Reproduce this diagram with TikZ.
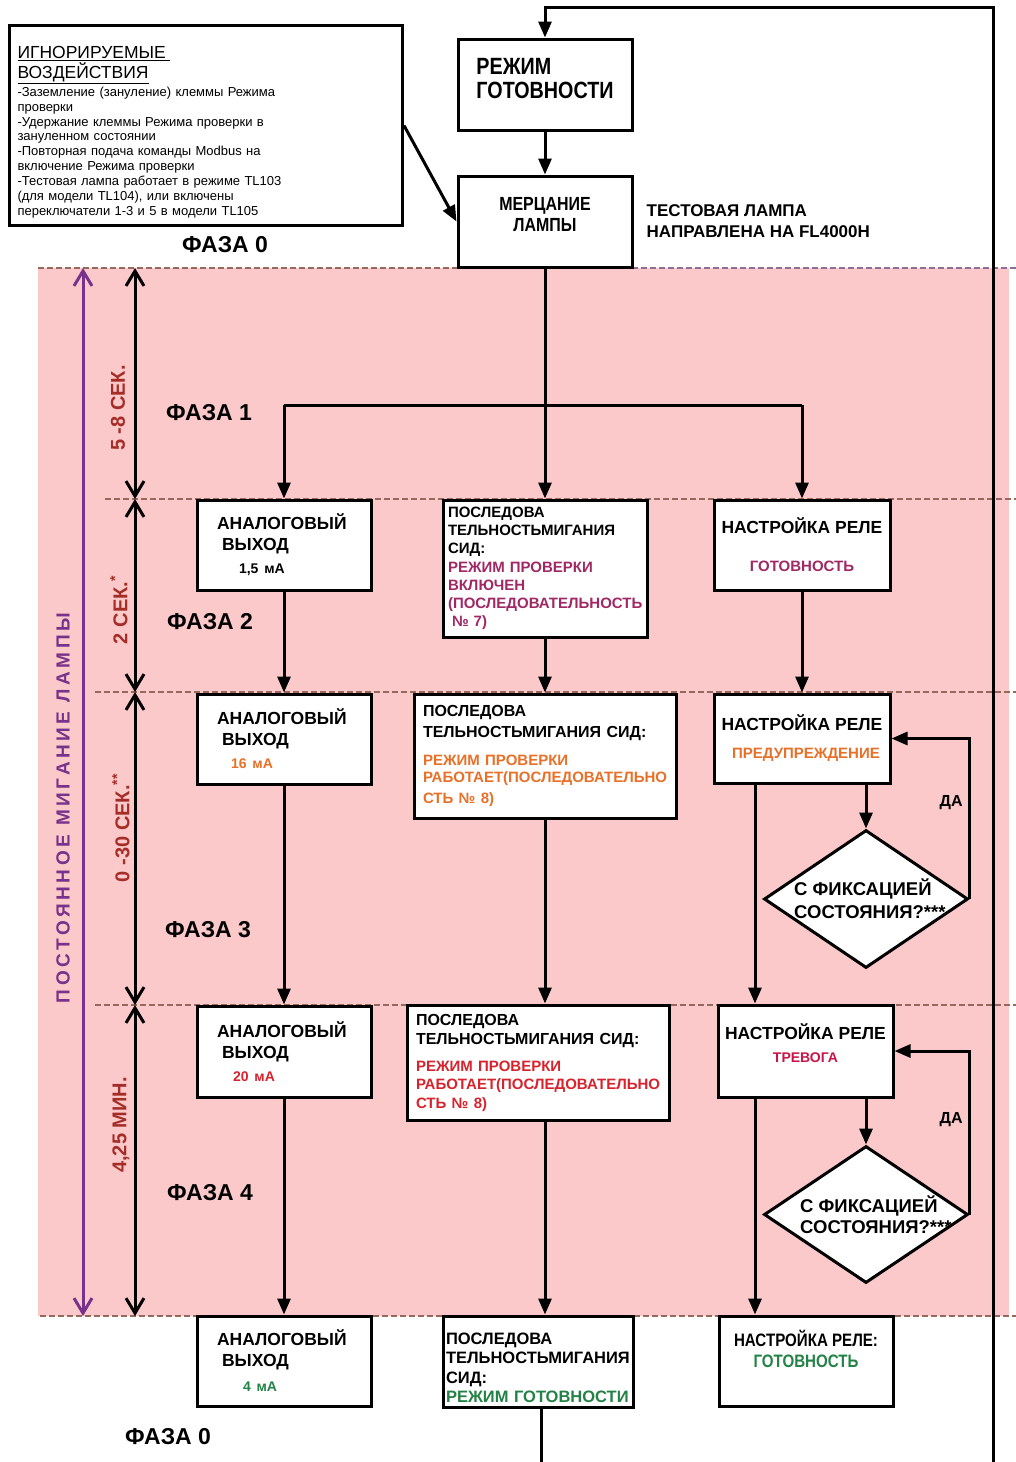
\documentclass[tikz,border=0pt]{standalone}
\usepackage{fontspec}
\setmainfont{Liberation Sans}
\newfontfamily\condfont[FakeStretch=0.84]{Liberation Sans}
\usetikzlibrary{arrows.meta,shapes.geometric,positioning}

\definecolor{phasepink}{RGB}{251,201,201}
\definecolor{bounddash}{RGB}{150,105,95}
\definecolor{bounddashpurple}{RGB}{140,110,150}
\definecolor{timered}{RGB}{165,45,40}
\definecolor{blinkpurple}{RGB}{120,50,140}
\definecolor{checkmagenta}{RGB}{160,40,100}
\definecolor{warnorange}{RGB}{232,112,40}
\definecolor{alarmred}{RGB}{215,35,45}
\definecolor{alarmcrimson}{RGB}{200,20,70}
\definecolor{readygreen}{RGB}{35,130,70}

\tikzset{
  box/.style={draw, line width=3pt, fill=white, inner sep=0pt, font=\bfseries\fontsize{17.5}{21}\selectfont},
  decision/.style={diamond, draw, line width=3pt, fill=white, inner sep=0pt, minimum width=204pt, minimum height=138pt},
  flow/.style={line width=3pt, -{Triangle[length=16pt,width=13pt]}},
  wire/.style={line width=3pt},
  timespan/.style={line width=3pt, {Straight Barb[length=15pt,width=18pt]}-{Straight Barb[length=15pt,width=18pt]}},
  bound/.style={draw=bounddash, line width=1.2pt, dash pattern=on 6pt off 3pt},
  phase/.style={font=\bfseries\fontsize{23}{27}\selectfont},
  timing/.style={rotate=90, text=timered, font=\bfseries\fontsize{20}{23}\selectfont},
}

\begin{document}
\begin{tikzpicture}[x=1pt,y=-1pt]
\useasboundingbox (0,0) rectangle (1016,1462);

% phase band and boundaries
\fill[phasepink] (38,268) rectangle (1009,1316);
\draw[bound] (38,268) -- (458,268);
\draw[bound, draw=bounddashpurple] (632,268) -- (1016,268);
\draw[bound] (105,499) -- (1016,499);
\draw[bound] (95,692) -- (1016,692);
\draw[bound] (95,1005) -- (1016,1005);
\draw[bound] (40,1316) -- (1016,1316);

% time scale
\coordinate (t0) at (135,268);
\coordinate (t1) at (135,499);
\coordinate (t2) at (135,692);
\coordinate (t3) at (135,1005);
\coordinate (t4) at (135,1316);
\draw[timespan] (t0) -- (t1);
\draw[timespan] (t1) -- (t2);
\draw[timespan] (t2) -- (t3);
\draw[timespan] (t3) -- (t4);
\coordinate (b0) at (83,268);
\coordinate (b1) at (83,1316);
\draw[timespan, draw=blinkpurple] (b0) -- (b1);

\node[timing] (dur1) at (118,408) {5 -8 СЕК.};
\node[timing] (dur2) at (119,610) {2 СЕК.\textsuperscript{*}};
\node[timing] (dur3) at (121,828) {0 -30 СЕК.\textsuperscript{**}};
\node[timing] (dur4) at (121,1125) {4,25 МИН.};
\node[rotate=90, text=blinkpurple, font=\bfseries\fontsize{19}{21}\selectfont\addfontfeature{LetterSpace=19}] (blink) at (63,808) {ПОСТОЯННОЕ МИГАНИЕ ЛАМПЫ};

\node[phase] (ph0) at (225,245) {ФАЗА 0};
\node[phase] (ph1) at (209,413) {ФАЗА 1};
\node[phase] (ph2) at (210,622) {ФАЗА 2};
\node[phase] (ph3) at (208,930) {ФАЗА 3};
\node[phase] (ph4) at (210,1193) {ФАЗА 4};
\node[phase] (ph5) at (168,1437) {ФАЗА 0};

% phase 0
\node[box, anchor=north west, minimum width=393pt, minimum height=200pt, text width=377pt, align=left, font=\fontsize{13}{14.9}\selectfont] (ign) at (8,24) {%
{\fontsize{17.5}{19.5}\selectfont\rule{0pt}{26pt}\underline{ИГНОРИРУЕМЫЕ\ }\par\underline{ВОЗДЕЙСТВИЯ}\par}\vspace{2pt}%
-Заземление (зануление) клеммы Режима\\проверки\\
-Удержание клеммы Режима проверки в\\зануленном состоянии\\
-Повторная подача команды Modbus на\\включение Режима проверки\\
-Тестовая лампа работает в режиме TL103\\(для модели TL104), или включены\\переключатели 1-3 и 5 в модели TL105};

\node[box, minimum width=174pt, minimum height=91pt, align=left, text depth=13pt, font=\condfont\bfseries\fontsize{23.5}{24}\selectfont] (standby) at (545,84.5) {РЕЖИМ\\ГОТОВНОСТИ};
\node[box, minimum width=174pt, minimum height=91pt, align=center, text depth=14pt, font=\condfont\bfseries\fontsize{19}{21}\selectfont] (lamp) at (545,221.5) {МЕРЦАНИЕ\\ЛАМПЫ};
\node[right=13pt of lamp, align=left, inner sep=0pt, font=\bfseries\fontsize{17}{21}\selectfont] (aim) {ТЕСТОВАЯ ЛАМПА\\НАПРАВЛЕНА НА FL4000H};

% phase 2
\node[box, minimum width=174pt, minimum height=90pt, text width=134pt, align=left] (ao2) at (284,545) {АНАЛОГОВЫЙ\\\hspace*{5pt}ВЫХОД\\[2pt]\hspace*{22pt}{\fontsize{14}{16}\selectfont 1,5 мА}};
\node[box, minimum width=204pt, minimum height=137pt, text width=194pt, align=left, font=\bfseries\fontsize{15}{18.2}\selectfont] (seq2) at (545,568.5) {ПОСЛЕДОВА\\ТЕЛЬНОСТЬМИГАНИЯ\\СИД:\\\color{checkmagenta}РЕЖИМ ПРОВЕРКИ\\ВКЛЮЧЕН\\(ПОСЛЕДОВАТЕЛЬНОСТЬ\\\hspace*{4pt}№ 7)};
\node[box, minimum width=176pt, minimum height=90pt, align=center] (relay2) at (802,545) {НАСТРОЙКА РЕЛЕ\\[17pt]{\color{checkmagenta}\fontsize{15}{18}\selectfont ГОТОВНОСТЬ}};

% phase 3
\node[box, minimum width=174pt, minimum height=90pt, text width=134pt, align=left] (ao3) at (284,739) {АНАЛОГОВЫЙ\\\hspace*{5pt}ВЫХОД\\[2pt]\hspace*{14pt}{\color{warnorange}\fontsize{14}{16}\selectfont 16 мА}};
\node[box, minimum width=262pt, minimum height=124pt, text width=244pt, align=left, font=\bfseries\fontsize{16}{21}\selectfont] (seq3) at (545,756) {ПОСЛЕДОВА\\ТЕЛЬНОСТЬМИГАНИЯ СИД:\\[10pt]{\color{warnorange}\fontsize{15}{17.5}\selectfont РЕЖИМ ПРОВЕРКИ\\РАБОТАЕТ(ПОСЛЕДОВАТЕЛЬНО\\СТЬ № 8)}};
\node[box, minimum width=176pt, minimum height=89pt, align=center] (relay3) at (802,738.5) {НАСТРОЙКА РЕЛЕ\\[7pt]\hspace*{8pt}{\color{warnorange}\fontsize{15}{18}\selectfont ПРЕДУПРЕЖДЕНИЕ}};
\node[decision] (chk3) at (866,899) {};
\node[anchor=west, align=left, inner sep=0pt, font=\bfseries\fontsize{18.5}{23}\selectfont] (chk3txt) at ([xshift=-72pt]chk3.center) {С ФИКСАЦИЕЙ\\СОСТОЯНИЯ?***};

% phase 4
\node[box, minimum width=174pt, minimum height=91pt, text width=134pt, align=left] (ao4) at (284,1051.5) {АНАЛОГОВЫЙ\\\hspace*{5pt}ВЫХОД\\[2pt]\hspace*{16pt}{\color{alarmred}\fontsize{14}{16}\selectfont 20 мА}};
\node[box, minimum width=262pt, minimum height=115pt, text width=244pt, align=left, font=\bfseries\fontsize{16}{19}\selectfont] (seq4) at (538,1062.5) {ПОСЛЕДОВА\\ТЕЛЬНОСТЬМИГАНИЯ СИД:\\[10pt]{\color{alarmred}\fontsize{15}{17.5}\selectfont РЕЖИМ ПРОВЕРКИ\\РАБОТАЕТ(ПОСЛЕДОВАТЕЛЬНО\\СТЬ № 8)}};
\node[box, minimum width=175pt, minimum height=92pt, align=center, text depth=16pt] (relay4) at (805.5,1051) {НАСТРОЙКА РЕЛЕ\\[2pt]{\color{alarmcrimson}\fontsize{14}{17}\selectfont ТРЕВОГА}};
\node[decision, minimum height=137pt] (chk4) at (866,1214.5) {};
\node[anchor=west, align=left, inner sep=0pt, font=\bfseries\fontsize{18.5}{21}\selectfont] (chk4txt) at ([xshift=-66pt]chk4.center) {С ФИКСАЦИЕЙ\\СОСТОЯНИЯ?***};

% back to phase 0
\node[box, minimum width=174pt, minimum height=90pt, text width=134pt, align=left] (ao0) at (284,1361) {АНАЛОГОВЫЙ\\\hspace*{5pt}ВЫХОД\\[4pt]\hspace*{26pt}{\color{readygreen}\fontsize{14}{16}\selectfont 4 мА}};
\node[box, minimum width=190pt, minimum height=91pt, text width=184pt, align=left, font=\bfseries\fontsize{16.5}{19.5}\selectfont] (seq0) at (538,1361.5) {\rule{0pt}{24pt}ПОСЛЕДОВА\\ТЕЛЬНОСТЬМИГАНИЯ\\СИД:\\\color{readygreen}РЕЖИМ ГОТОВНОСТИ};
\node[box, minimum width=174pt, minimum height=90pt, align=center, font=\condfont\bfseries\fontsize{18}{21}\selectfont] (relay0) at (806,1361) {НАСТРОЙКА РЕЛЕ:\\{\color{readygreen}ГОТОВНОСТЬ}\\[3pt]};

% connectors
\coordinate (split) at (545,405);
\coordinate (mid) at (545,0);
\coordinate (lane) at (755,0);
\coordinate (loopin) at (545,7);
\coordinate (loopout) at (541,1465);
\coordinate (rail) at (993,0);

\draw[flow] (standby) -- (lamp);
\draw[flow] (ign.east) -- (lamp.west);
\draw[flow] (lamp) -- (seq2);
\draw[wire] (split -| ao2.north) -- (split -| relay2.north);
\draw[flow] (split -| ao2.north) -- (ao2.north);
\draw[flow] (split -| relay2.north) -- (relay2.north);

\draw[flow] (ao2) -- (ao3);
\draw[flow] (ao3) -- (ao4);
\draw[flow] (ao4) -- (ao0);

\draw[flow] (seq2) -- (seq3);
\draw[flow] (seq3.south -| mid) -- (seq4.north -| mid);
\draw[flow] (seq4.south -| mid) -- (seq0.north -| mid);

\draw[flow] (relay2) -- (relay3);
\draw[flow] (relay3.south -| chk3.north) -- (chk3.north);
\draw[flow] (chk3.east) |- (relay3.east) node[pos=0.3, left=2pt, font=\bfseries\fontsize{16}{19}\selectfont] (yes3) {ДА};
\draw[flow] (relay3.south -| lane) -- (relay4.north -| lane);
\draw[flow] (relay4.south -| chk4.north) -- (chk4.north);
\draw[flow] (chk4.east) |- (relay4.east) node[pos=0.29, left=2pt, font=\bfseries\fontsize{16}{19}\selectfont] (yes4) {ДА};
\draw[flow] (relay4.south -| lane) -- (relay0.north -| lane);

\draw[flow] (seq0.south -| loopout) -- (loopout) -| (rail |- loopin) -- (loopin) -- (standby.north);
\end{tikzpicture}
\end{document}
